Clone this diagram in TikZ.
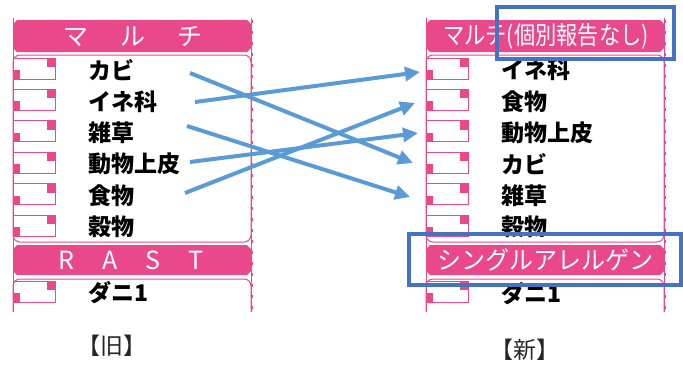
\documentclass[tikz,border=0pt]{standalone}
\usepackage{fontspec}
\setmainfont{Noto Sans CJK JP}
\usetikzlibrary{arrows.meta}

\definecolor{allpink}{RGB}{233,72,138}
\definecolor{arrowblue}{RGB}{91,155,213}
\definecolor{boxblue}{RGB}{68,114,196}

\tikzset{
  item/.style={anchor=west,inner sep=0pt,font=\fontsize{23}{23}\selectfont\bfseries},
  bandtext/.style={text=white,inner sep=0pt,font=\fontsize{25}{25}\selectfont},
  caption/.style={inner sep=0pt,text=black!85,font=\fontsize{23}{23}\selectfont},
  move/.style={draw=arrowblue,line width=4pt,-{Triangle[length=15pt,width=14pt]}},
  focus/.style={draw=boxblue,line width=3.6pt},
  pinkline/.style={draw=allpink,line width=1pt},
}

% one panel: left edge x0, right edge x1
\newcommand{\panelframe}[2]{%
  \draw[pinkline] (#1,18) -- (#1,312);
  \draw[pinkline] (#2,18) -- (#2,312);
  \draw[allpink,line width=1.2pt,dash pattern=on 3pt off 8pt] (#2+1.5,20) -- (#2+1.5,312);
  % bands
  \fill[allpink] (#1+4,20) -- (#2-4,20) -- (#2,24) -- (#2,48) -- (#2-4,52)
    -- (#1+4,52) -- (#1,48) -- (#1,24) -- cycle;
  \fill[allpink] (#1+4,245) -- (#2-4,245) -- (#2,249) -- (#2,271) -- (#2-4,275)
    -- (#1+4,275) -- (#1,271) -- (#1,249) -- cycle;
  % white areas
  \draw[pinkline,rounded corners=7pt] (#1,55) rectangle (#2,242);
  \draw[pinkline,rounded corners=7pt] (#1,312) -- (#1,279) -- (#2,279) -- (#2,312);
  % row boxes
  \foreach \y in {70,101.4,132.8,164.2,195.6,227,293} {
    \draw[pinkline,line width=0.8pt] (#1,\y-12) -- (#1+42,\y-12) -- (#1+42,\y+9) -- (#1,\y+9);
    \fill[allpink] (#1+34,\y-12) rectangle (#1+42,\y-3);
    \fill[allpink] (#1,\y) rectangle (#1+7,\y+9);
  }
}

\begin{document}
\begin{tikzpicture}[x=1pt,y=-1pt]
  \useasboundingbox (0,0) rectangle (683,367);

  % old
  \panelframe{13}{251}
  \node[bandtext] (old-multi) at (133,36) {マ\hspace{32pt}ル\hspace{32pt}チ};
  \node[bandtext] (old-rast) at (131,260) {R\hspace{28pt}A\hspace{28pt}S\hspace{28pt}T};
  \node[item] (old-kabi) at (88,70) {カビ};
  \node[item] (old-ine) at (88,101.4) {イネ科};
  \node[item] (old-zasso) at (88,132.8) {雑草};
  \node[item] (old-hifu) at (88,164.2) {動物上皮};
  \node[item] (old-shoku) at (88,195.6) {食物};
  \node[item] (old-koku) at (88,227) {穀物};
  \node[item] (old-dani) at (88,293) {ダニ1};
  \node[caption] (old-cap) at (112,346) {【旧】};

  % new
  \panelframe{426}{664}
  \node[bandtext] (new-multi) at (546,36) {\scalebox{0.85}[1]{マルチ(個別報告なし)}};
  \node[bandtext] (new-single) at (545,260) {\scalebox{0.96}[1]{シングルアレルゲン}};
  \node[item] (new-ine) at (501,70) {イネ科};
  \node[item] (new-shoku) at (501,101.4) {食物};
  \node[item] (new-hifu) at (501,132.8) {動物上皮};
  \node[item] (new-kabi) at (501,164.2) {カビ};
  \node[item] (new-zasso) at (501,195.6) {雑草};
  \node[item] (new-koku) at (501,227) {穀物};
  \node[item] (new-dani) at (501,294) {ダニ1};
  \node[caption] (new-cap) at (525,350) {【新】};

  % highlights
  \draw[focus] (497,7) rectangle (674,59);
  \draw[focus] (409,234) rectangle (681,285);

  % moves
  \coordinate (kabi-out) at (190,73);
  \coordinate (kabi-in) at (413,163);
  \coordinate (ine-out) at (195,102);
  \coordinate (ine-in) at (420,72);
  \coordinate (zasso-out) at (187,126);
  \coordinate (zasso-in) at (410,197);
  \coordinate (hifu-out) at (190,162);
  \coordinate (hifu-in) at (418,133);
  \coordinate (shoku-out) at (185,193);
  \coordinate (shoku-in) at (415,103);
  \draw[move] (kabi-out) -- (kabi-in);
  \draw[move] (ine-out) -- (ine-in);
  \draw[move] (zasso-out) -- (zasso-in);
  \draw[move] (hifu-out) -- (hifu-in);
  \draw[move] (shoku-out) -- (shoku-in);
\end{tikzpicture}
\end{document}
